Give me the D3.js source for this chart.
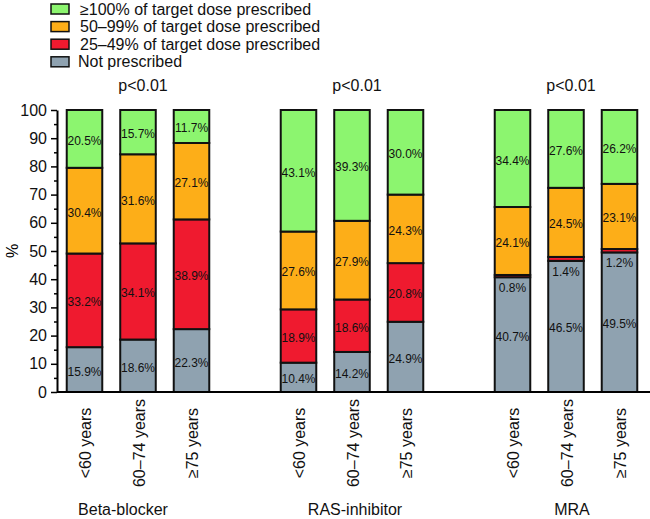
<!DOCTYPE html>
<html><head><meta charset="utf-8">
<script src="https://cdn.jsdelivr.net/npm/d3@7/dist/d3.min.js"></script>
<style>body{margin:0;background:#fff}svg{display:block;font-family:"Liberation Sans",Arial,sans-serif}</style>
</head><body><svg id="c" width="650" height="519"></svg>
<script>
const groups = ["Beta-blocker", "RAS-inhibitor", "MRA"];
const ages = ["<60 years", "60–74 years", "≥75 years"];
const pValues = ["p<0.01", "p<0.01", "p<0.01"];
const notPrescribed = [15.9, 18.6, 22.3, 10.4, 14.2, 24.9, 40.7, 46.5, 49.5];
const dose25to49 = [33.2, 34.1, 38.9, 18.9, 18.6, 20.8, 0.8, 1.4, 1.2];
const dose50to99 = [30.4, 31.6, 27.1, 27.6, 27.9, 24.3, 24.1, 24.5, 23.1];
const dose100 = [20.5, 15.7, 11.7, 43.1, 39.3, 30.0, 34.4, 27.6, 26.2];
const seriesNames = ["Not prescribed", "25–49% of target dose prescribed", "50–99% of target dose prescribed", "≥100% of target dose prescribed"];
const yTicks = [0, 10, 20, 30, 40, 50, 60, 70, 80, 90, 100];

const colors = {"Not prescribed": "#8fa2b0", "25–49% of target dose prescribed": "#ef1a2f", "50–99% of target dose prescribed": "#fdae18", "≥100% of target dose prescribed": "#8cf56f"};
const seriesVals = [notPrescribed, dose25to49, dose50to99, dose100];
const groupLabelShift = [-15, 3, 6];

const rows = [];
groups.forEach((g, gi) => ages.forEach((a, ai) => {
  const i = gi * 3 + ai;
  const r = {group: g, age: a};
  seriesNames.forEach((s, si) => r[s] = seriesVals[si][i]);
  rows.push(r);
}));

const svg = d3.select("#c");
const x0 = d3.scaleBand().domain(groups).range([31, 673]).padding(0);
const x1 = d3.scaleBand().domain(ages).range([0, x0.bandwidth()]).paddingInner(0.336).paddingOuter(0.668);
const y = d3.scaleLinear().domain([0, 100]).range([392, 110]);
const stack = d3.stack().keys(seriesNames)(rows);

// bars
stack.forEach(layer => {
  svg.append("g").selectAll("rect").data(layer).join("rect")
    .attr("x", d => x0(d.data.group) + x1(d.data.age))
    .attr("width", x1.bandwidth())
    .attr("y", d => y(d[1]))
    .attr("height", d => y(d[0]) - y(d[1]))
    .attr("fill", colors[layer.key])
    .attr("stroke", "#111").attr("stroke-width", 2);
});
// labels
stack.forEach((layer, li) => {
  svg.append("g").selectAll("text").data(layer).join("text")
    .attr("x", d => x0(d.data.group) + x1(d.data.age) + x1.bandwidth() / 2)
    .attr("y", d => {
      const v = d[1] - d[0];
      if (v < 3) return y(d[0]) + 11;
      return (y(d[0]) + y(d[1])) / 2 + 2;
    })
    .attr("text-anchor", "middle").attr("dominant-baseline", "central")
    .attr("font-size", 12).attr("fill", "#111")
    .text(d => (d[1] - d[0]).toFixed(1) + "%");
});

// y axis
const yAxis = d3.axisLeft(y).tickValues(yTicks).tickSize(6).tickPadding(4).tickSizeOuter(0);
const gy = svg.append("g").attr("transform", "translate(57,0)").call(yAxis);
gy.select(".domain").attr("stroke", "#000").attr("stroke-width", 2);
gy.selectAll(".tick line").attr("stroke", "#000").attr("stroke-width", 1.5);
gy.selectAll(".tick text").attr("font-size", 16).attr("fill", "#111").attr("font-family", "Liberation Sans, Arial, sans-serif");
const minor = d3.axisLeft(y).tickValues(d3.range(5, 100, 10)).tickSize(3).tickFormat("");
const gm = svg.append("g").attr("transform", "translate(57,0)").call(minor);
gm.select(".domain").remove();
gm.selectAll(".tick line").attr("stroke", "#000").attr("stroke-width", 1.5);

// x axis baseline
svg.append("line").attr("x1", 57).attr("x2", 650).attr("y1", y(0)).attr("y2", y(0)).attr("stroke", "#000").attr("stroke-width", 2);

// age labels
rows.forEach(r => {
  const cx = x0(r.group) + x1(r.age) + x1.bandwidth() / 2;
  svg.append("text").attr("transform", `translate(${cx + 1},443) rotate(-90)`)
    .attr("text-anchor", "middle").attr("dominant-baseline", "central")
    .attr("font-size", 16).attr("fill", "#111").text(r.age);
});
// group labels
groups.forEach((g, gi) => {
  svg.append("text").attr("x", x0(g) + x0.bandwidth() / 2 + groupLabelShift[gi]).attr("y", 515)
    .attr("text-anchor", "middle").attr("font-size", 16).attr("fill", "#111").text(g);
  svg.append("text").attr("x", x0(g) + x0.bandwidth() / 2 + 5).attr("y", 91)
    .attr("text-anchor", "middle").attr("font-size", 16).attr("fill", "#111").text(pValues[gi]);
});
// y label
svg.append("text").attr("transform", "translate(12,251) rotate(-90)")
  .attr("text-anchor", "middle").attr("dominant-baseline", "central").attr("font-size", 16).text("%");

// legend
const legendOrder = seriesNames.slice().reverse();
const lg = svg.append("g");
legendOrder.forEach((s, i) => {
  const cy = 9 + i * 17.6;
  lg.append("rect").attr("x", 51).attr("y", cy - 5).attr("width", 18).attr("height", 10)
    .attr("fill", colors[s]).attr("stroke", "#111").attr("stroke-width", 1.5);
  lg.append("text").attr("x", i === 3 ? 78 : 80).attr("y", cy).attr("dominant-baseline", "central")
    .attr("font-size", 16).attr("fill", "#111").text(s);
});
</script></body></html>
